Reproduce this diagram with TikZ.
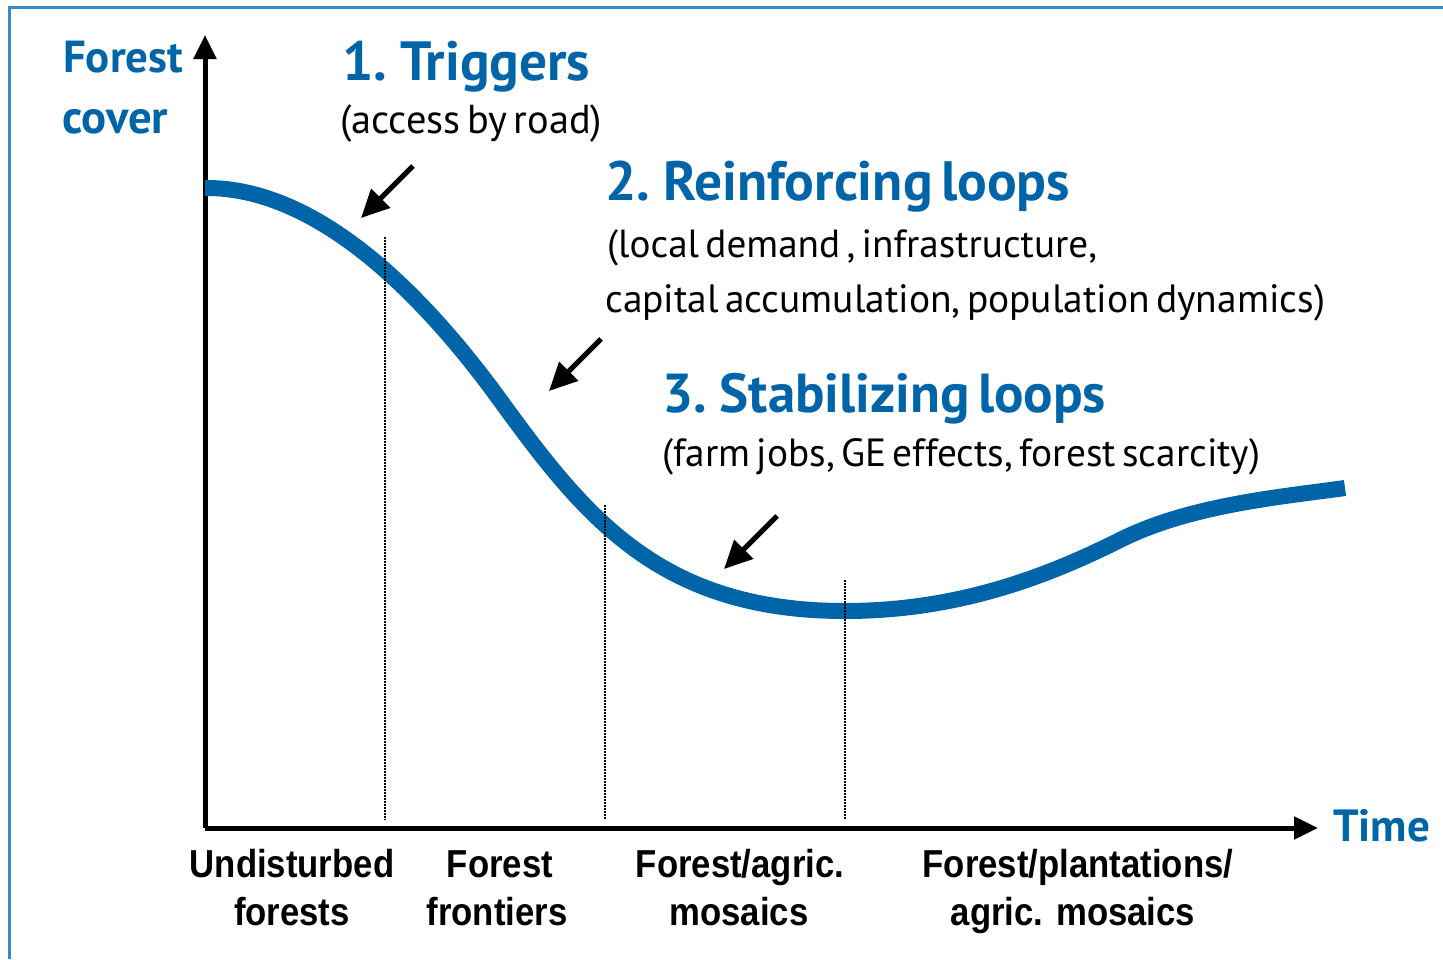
\documentclass[tikz,border=0pt]{standalone}
\usepackage{fontspec}
\setmainfont{Liberation Sans}
\newfontfamily\myr[WordSpace=0.6]{PT Sans}
\usetikzlibrary{arrows.meta}
\definecolor{fblue}{RGB}{0,101,168}
\definecolor{frameblue}{RGB}{55,140,205}
\newcommand{\fitw}[2]{\resizebox{#1pt}{!}{#2}}
\newcommand{\stg}[1]{\scalebox{0.89}[1]{#1}}
\begin{document}
\begin{tikzpicture}[x=1pt,y=-1pt,
  axis/.style={line width=5pt, -{Triangle[length=24pt,width=22pt]}},
  pointer/.style={line width=5pt, -{Triangle[length=28pt,width=26pt]}},
  guide/.style={line width=2.4pt, dash pattern=on 1.6pt off 1.4pt},
  heading/.style={inner sep=0pt, anchor=base west, text=fblue, font=\myr\bfseries\fontsize{50}{60}\selectfont},
  sub/.style={inner sep=0pt, anchor=base west, font=\myr\fontsize{36}{44}\selectfont},
  stage/.style={inner sep=0pt, anchor=base, font=\bfseries\fontsize{39}{48}\selectfont}
]
\useasboundingbox (0,0) rectangle (1443,959);
% frame
\draw[frameblue, line width=3pt] (9,959) -- (9,7) -- (1443,7);

% axes
\coordinate (O) at (205,828);
\coordinate (ytip) at (205,35);
\coordinate (xtip) at (1318,828);
\draw[axis] (O) -- (ytip);
\draw[axis] (O) -- (xtip);

% curve
\coordinate (c0) at (205,188);
\coordinate (c1) at (500,400);
\coordinate (c2) at (845,611);
\coordinate (c3) at (1120,540);
\coordinate (c4) at (1345,488);
\draw[fblue, line width=16pt]
  (c0) .. controls (315,187) and (420,290) .. (c1)
       .. controls (585,517) and (660,611) .. (c2)
       .. controls (960,611) and (1050,575) .. (c3)
       .. controls (1190,505) and (1280,497) .. (c4);

% dotted guides
\coordinate (g1t) at (385,237); \coordinate (g1b) at (385,820);
\coordinate (g2t) at (605,505); \coordinate (g2b) at (605,820);
\coordinate (g3t) at (845,580); \coordinate (g3b) at (845,820);
\draw[guide] (g1t) -- (g1b);
\draw[guide] (g2t) -- (g2b);
\draw[guide] (g3t) -- (g3b);

% pointer arrows
\coordinate (a1s) at (413,166); \coordinate (a1e) at (361,218);
\coordinate (a2s) at (601,339); \coordinate (a2e) at (549,391);
\coordinate (a3s) at (777,516); \coordinate (a3e) at (724,569);
\draw[pointer] (a1s) -- (a1e);
\draw[pointer] (a2s) -- (a2e);
\draw[pointer] (a3s) -- (a3e);

% axis labels
\node[heading] (fc1) at (63,72) {\fitw{120}{Forest}};
\node[heading] (fc2) at (62,133) {\fitw{106}{cover}};
\node[heading] (time) at (1333,841) {\fitw{97}{Time}};

% headings
\node[heading] (h1) at (342,80) {\fitw{248}{1. Triggers}};
\node[sub] (s1) at (340,133) {\fitw{262}{(access by road)}};
\node[heading] (h2) at (605,200) {\fitw{465}{2. Reinforcing loops}};
\node[sub] (s2a) at (607,257) {\fitw{490}{(local demand , infrastructure,}};
\node[sub] (s2b) at (605,312) {\fitw{720}{capital accumulation, population dynamics)}};
\node[heading] (h3) at (662,412) {\fitw{444}{3. Stabilizing loops}};
\node[sub] (s3) at (662,466) {\fitw{598}{(farm jobs, GE effects, forest scarcity)}};

% stage labels
\node[stage] (u1) at (292,877) {\stg{Undisturbed}};
\node[stage] (u2) at (292,925) {\stg{forests}};
\node[stage] (f1) at (500,877) {\stg{Forest}};
\node[stage] (f2) at (497,925) {\stg{frontiers}};
\node[stage] (m1) at (740,877) {\stg{Forest/agric.}};
\node[stage] (m2) at (739,925) {\stg{mosaics}};
\node[stage] (p1) at (1078,877) {\stg{Forest/plantations/}};
\node[stage] (p2) at (1073,925) {\stg{agric. mosaics}};
\end{tikzpicture}
\end{document}
